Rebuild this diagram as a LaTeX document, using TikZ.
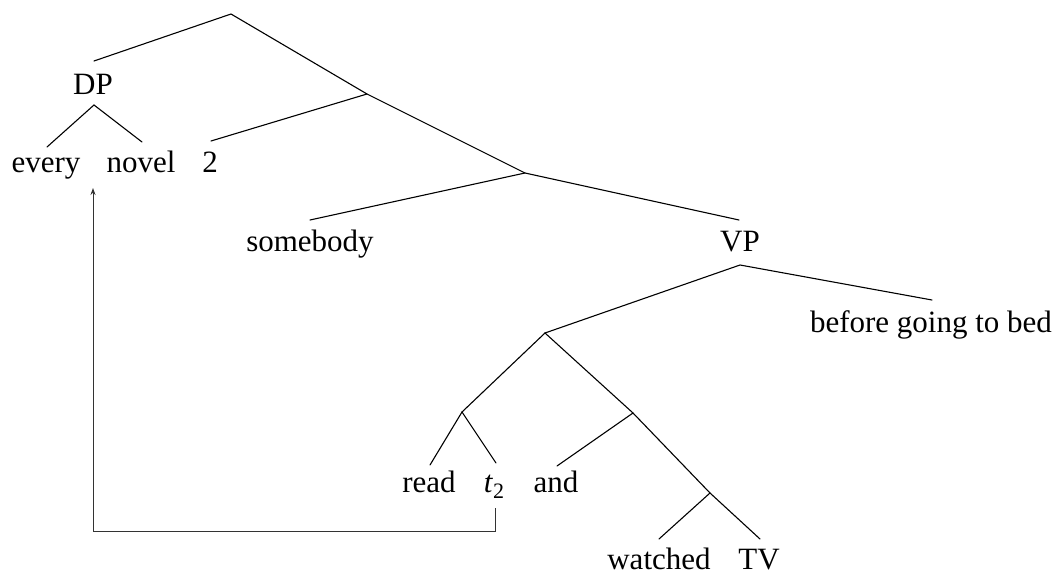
\documentclass[tikz,border=0pt]{standalone}
\usepackage{fontspec}
\setmainfont{Liberation Serif}
\usetikzlibrary{arrows.meta}
\begin{document}
\begin{tikzpicture}[x=1pt,y=-1pt,
  lbl/.style={anchor=base,inner sep=0pt,font=\fontsize{31}{36}\selectfont},
  branch/.style={line width=1.1pt,line cap=round},
  move/.style={line width=0.9pt,draw=black!80,-{Stealth[length=7pt,width=5pt]}}]
\useasboundingbox (0,0) rectangle (1058,572);
% internal points
\coordinate (r) at (231,14);
\coordinate (dpT) at (94,61);
\coordinate (dpB) at (94,105);
\coordinate (n1) at (367,94);
\coordinate (n2) at (525,173);
\coordinate (vpB) at (740,265);
\coordinate (n3) at (545,333);
\coordinate (n4) at (462,412);
\coordinate (n5) at (633,413);
\coordinate (n6) at (710,493);
% leaf tops
\coordinate (everyT) at (47,147);
\coordinate (novelT) at (142,142);
\coordinate (twoT) at (211,141);
\coordinate (somebodyT) at (310,220);
\coordinate (vpT) at (739,220);
\coordinate (beforeT) at (932,300);
\coordinate (readT) at (430,465);
\coordinate (tT) at (496,463);
\coordinate (andT) at (557,466);
\coordinate (watchedT) at (659,539);
\coordinate (tvT) at (760,539);
% labels
\node[lbl] (dp) at (93,95) {DP};
\node[lbl] (every) at (46,173) {every};
\node[lbl] (novel) at (141,173) {novel};
\node[lbl] (two) at (210,173) {2};
\node[lbl] (somebody) at (310,252) {somebody};
\node[lbl] (vp) at (740,252) {VP};
\node[lbl] (before) at (931,332) {before going to bed};
\node[lbl] (read) at (429,492) {read};
\node[lbl] (t2) at (494,492) {\textit{t}\raisebox{-0.22em}{\fontsize{22}{22}\selectfont 2}};
\node[lbl] (and) at (556,492) {and};
\node[lbl,text depth=0pt] (watched) at (659,569) {watched};
\node[lbl,text depth=0pt] (tv) at (759,569) {TV};
% branches
\draw[branch] (dpT) -- (r) -- (n1) -- (n2) -- (vpT);
\draw[branch] (twoT) -- (n1);
\draw[branch] (somebodyT) -- (n2);
\draw[branch] (everyT) -- (dpB) -- (novelT);
\draw[branch] (n3) -- (vpB) -- (beforeT);
\draw[branch] (n4) -- (n3) -- (n5) -- (n6) -- (tvT);
\draw[branch] (readT) -- (n4) -- (tT);
\draw[branch] (andT) -- (n5);
\draw[branch] (watchedT) -- (n6);
% movement
\coordinate (tB) at (495,508);
\coordinate (cornerR) at (495,531);
\coordinate (cornerL) at (93,531);
\coordinate (arrT) at (93,188);
\draw[move] (tB) -- (cornerR) -- (cornerL) -- (arrT);
\end{tikzpicture}
\end{document}
